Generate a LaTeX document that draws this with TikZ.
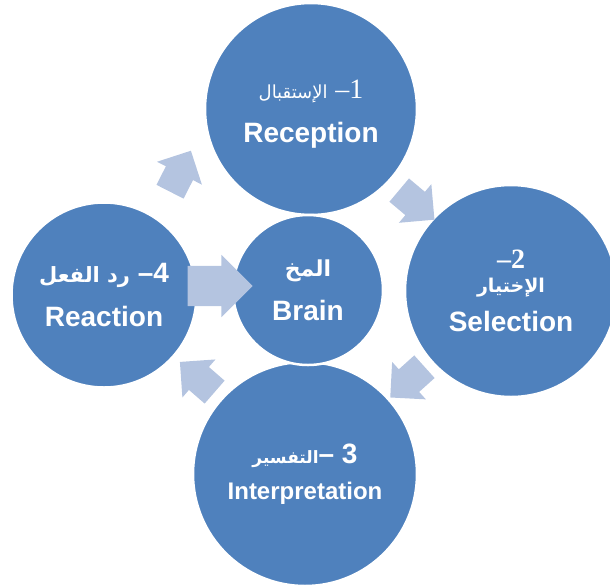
\documentclass[tikz,border=0pt]{standalone}
\usepackage{fontspec}
\setmainfont{Liberation Serif}
\setsansfont{Liberation Sans}
\newfontfamily\arabicfont[Script=Arabic]{DejaVu Sans}
\TeXXeTstate=1
\usetikzlibrary{shapes.arrows}

\definecolor{stageblue}{RGB}{79,129,189}
\definecolor{arrowblue}{RGB}{180,196,224}

% arabic words at a given size
\newcommand{\arsize}[1]{\arabicfont\fontsize{#1}{30}\selectfont}

\begin{document}
\begin{tikzpicture}[x=1pt,y=-1pt,
  stage/.style={circle,fill=stageblue,draw=white,line width=2.5pt,inner sep=0pt,
    text=white,align=center,font=\sffamily\bfseries\fontsize{28}{44}\selectfont},
  stagetext/.style={inner sep=0pt,text=white,align=center,
    font=\sffamily\bfseries\fontsize{28}{44}\selectfont},
  cyclearrow/.style={single arrow,fill=arrowblue,inner xsep=0pt,inner ysep=15pt,
    minimum height=46pt,single arrow head extend=10pt}]

  \useasboundingbox (0,0) rectangle (610,587);

  % the four stages round the cycle, the brain in the middle
  \node[stage,minimum size=212pt] (reception) at (311,109) {};
  \node[stagetext] (reception text) at (311,114)
    {{\arsize{18}\mdseries\beginR الإستقبال\endR}~{\rmfamily\mdseries --1}\\Reception};
  \node[stage,minimum size=212pt] (selection) at (511,291)
    {{\rmfamily\bfseries --2}\\[-20pt]{\arsize{19}\beginR الإختيار\endR}\\[-5pt]Selection};
  \node[stage,minimum size=224pt] (interpretation) at (305,474)
    {{\arsize{17}\beginR التفسير\endR}--~3\\[-8pt]{\fontsize{24}{30}\selectfont Interpretation}};
  \node[stage,minimum size=185pt] (reaction) at (104,295)
    {{\arsize{21}\beginR رد الفعل\endR}~--4\\Reaction};
  \node[stage,minimum size=150pt] (brain) at (308,290)
    {{\arsize{22}\beginR المخ\endR}\\Brain};

  % block arrows between the stages
  \node[cyclearrow,rotate=63] (a1) at (177,178) {};
  \node[cyclearrow,rotate=-40] (a2) at (411,200) {};
  \node[cyclearrow,rotate=-138] (a3) at (413,377) {};
  \node[cyclearrow,rotate=139] (a4) at (203,382) {};
  \node[cyclearrow,minimum height=65pt,inner ysep=20pt,
    single arrow head extend=11pt] (a5) at (210,286) {};
\end{tikzpicture}
\end{document}
